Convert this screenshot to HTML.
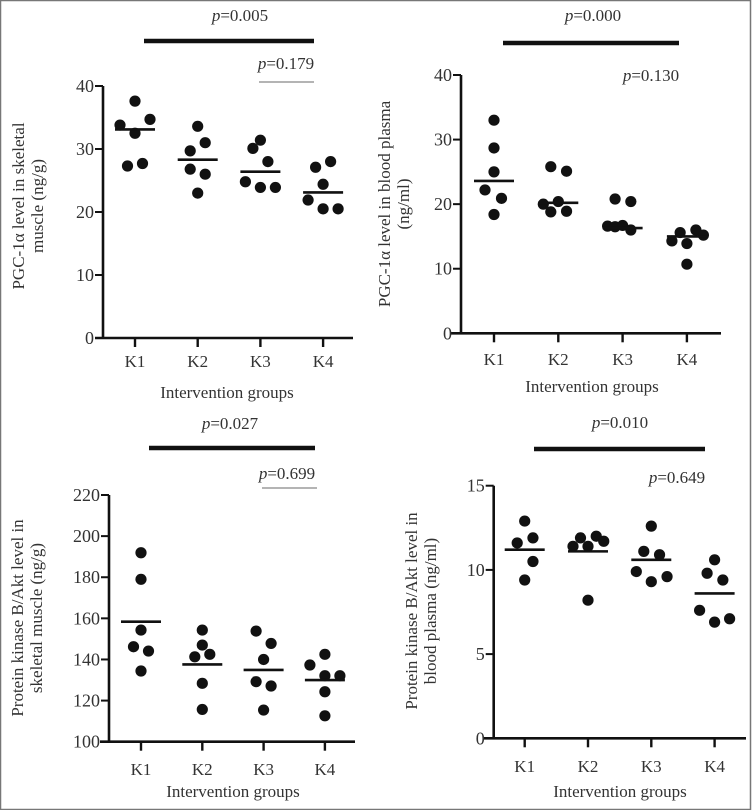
<!DOCTYPE html>
<html><head><meta charset="utf-8"><style>
html,body{margin:0;padding:0;background:#fff;}
svg, svg text{font-family:"Liberation Serif","Times New Roman",serif;}
svg{display:block;}
</style></head><body>
<svg id="fig" width="756" height="810" viewBox="0 0 756 810" font-family="Liberation Serif, serif">
<rect x="0.5" y="0.5" width="750" height="809" fill="none" stroke="#777" stroke-width="1.5"/>
</svg>
<script>
const categories = ["K1","K2","K3","K4"];
// Panel A: PGC-1a skeletal muscle
const aValues = [[33.8,37.6,34.7,32.5,27.3,27.7],[33.6,29.7,31.0,26.8,26.0,23.0],[30.1,31.4,28.0,24.8,23.9,23.9],[27.1,28.0,24.4,21.9,20.5,20.5]];
const aJitter = [[-1,0,1,0,-0.5,0.5],[0,-0.5,0.5,-0.5,0.5,0],[-0.5,0,0.5,-1,0,1],[-0.5,0.5,0,-1,0,1]];
const aMeans = [33.1,28.3,26.4,23.1];
const aTicks = [0,10,20,30,40];
// Panel B: PGC-1a blood plasma
const bValues = [[33.0,28.7,25.0,22.2,20.9,18.4],[25.8,25.1,20.0,20.4,18.8,18.9],[20.8,20.4,16.6,16.5,16.7,16.0],[14.3,15.6,13.9,16.0,15.2,10.7]];
const bJitter = [[0,0,0,-0.6,0.5,0],[-0.5,0.55,-1,0,-0.5,0.55],[-0.5,0.55,-1,-0.5,0,0.55],[-1,-0.45,0,0.6,1.1,0]];
const bMeans = [23.6,20.2,16.3,15.0];
const bTicks = [0,10,20,30,40];
// Panel C: PKB/Akt skeletal muscle
const cValues = [[191.9,179.0,154.3,146.2,144.1,134.4],[154.3,147.0,142.5,141.3,128.4,115.7],[153.8,147.8,140.0,129.2,127.1,115.4],[142.5,137.3,132.1,132.1,124.3,112.6]];
const cJitter = [[0,0,0,-0.5,0.5,0],[0,0,0.5,-0.5,0,0],[-0.5,0.5,0,-0.5,0.5,0],[0,-1,0,1,0,0]];
const cMeans = [158.4,137.6,134.9,130.0];
const cTicks = [100,120,140,160,180,200,220];
// Panel D: PKB/Akt blood plasma
const dValues = [[12.9,11.6,11.9,10.5,9.4],[11.4,11.9,11.4,12.0,11.7,8.2],[12.6,11.1,10.9,9.9,9.3,9.6],[10.6,9.8,9.4,7.6,6.9,7.1]];
const dJitter = [[0,-0.5,0.55,0.55,0],[-1,-0.5,0,0.55,1.05,0],[0,-0.5,0.55,-1,0,1.05],[0,-0.5,0.55,-1,0,1]];
const dMeans = [11.2,11.1,10.6,8.6];
const dTicks = [0,5,10,15];
const pLabels = ["0.005","0.179","0.000","0.130","0.027","0.699","0.010","0.649"];

const NS="http://www.w3.org/2000/svg";
const svg=document.getElementById('fig');
const FF="Liberation Serif, serif";
function mk(tag,attrs,parent){const e=document.createElementNS(NS,tag);for(const k in attrs)e.setAttribute(k,attrs[k]);if(tag==='text')e.setAttribute('font-family',FF);(parent||svg).appendChild(e);return e;}

function panel(cfg){
  const g=mk('g',{});
  
  
  const yMin=cfg.ticks[0], yMax=cfg.ticks[cfg.ticks.length-1];
  const ys=v=>cfg.y0+(v-yMin)/(yMax-yMin)*(cfg.y1-cfg.y0);
  const xs=i=>cfg.xK1+i*cfg.step;
  const ya=mk('line',{x1:cfg.ax,y1:cfg.y1,x2:cfg.ax,y2:cfg.y0+1,stroke:'#111','stroke-width':2.6},g);
  
  
  const xa=mk('line',{x1:cfg.xl,y1:cfg.y0,x2:cfg.xr,y2:cfg.y0,stroke:'#111','stroke-width':2.6},g);
  
  
  cfg.ticks.forEach(t=>{
    const y=ys(t);
    const tk=mk('line',{x1:cfg.ax-8,y1:y,x2:cfg.ax,y2:y,stroke:'#111','stroke-width':2},g);
    
    
    const tl=mk('text',{x:cfg.ax-9,y:y+6,'text-anchor':'end','font-size':18,fill:'#333'},g);
    tl.textContent=t;
    
    
  });
  categories.forEach((c,i)=>{
    const x=xs(i);
    const tk=mk('line',{x1:x,y1:cfg.y0,x2:x,y2:cfg.y0+9,stroke:'#111','stroke-width':2.4},g);
    
    
    const tl=mk('text',{x:x,y:cfg.klab,'text-anchor':'middle','font-size':17,fill:'#333'},g);
    tl.textContent=c;
    
    
    cfg.values[i].forEach((v,j)=>{
      const d=mk('circle',{cx:x+cfg.jitter[i][j]*15,cy:ys(v),r:5.6,fill:'#111'},g);
      
      
    });
    const m=mk('line',{x1:x-20,y1:ys(cfg.means[i]),x2:x+20,y2:ys(cfg.means[i]),stroke:'#111','stroke-width':2.6},g);
    
    
  });
  const xt=mk('text',{x:cfg.titleX,y:cfg.titleY,'text-anchor':'middle','font-size':17,fill:'#333'},g);
  xt.textContent='Intervention groups';
  
  
  const yt=mk('text',{transform:`translate(${cfg.ylx},${cfg.yly}) rotate(-90)`,'text-anchor':'middle','font-size':17,fill:'#333'},g);
  
  
  cfg.ylab.forEach((s,k)=>{const ts=mk('tspan',{x:0,dy:k?19:0},yt);ts.textContent=s;});
  const b=mk('line',{x1:cfg.bar[0],y1:cfg.bar[2],x2:cfg.bar[1],y2:cfg.bar[2],stroke:'#111','stroke-width':4.5},g);
  
  
  function ptext(x,y,val,nm){
    const t=mk('text',{x:x,y:y,'text-anchor':'middle','font-size':17,fill:'#333'},g);
    const a=mk('tspan',{'font-style':'italic'},t);a.textContent='p';
    const bb=mk('tspan',{},t);bb.textContent='='+val;
    
    
  }
  ptext(cfg.p1[0],cfg.p1[1],cfg.p1[2],'p-value-k1-k4');
  ptext(cfg.p2[0],cfg.p2[1],cfg.p2[2],'p-value-k3-k4');
  if(cfg.thin){
    const tl=mk('line',{x1:cfg.thin[0],y1:cfg.thin[2],x2:cfg.thin[1],y2:cfg.thin[2],stroke:'#888','stroke-width':1.2},g);
    
    
  }
}

panel({name:'panel-pgc1a-muscle',values:aValues,jitter:aJitter,means:aMeans,ticks:aTicks,
  ax:103,y0:338,y1:86,xl:95,xr:353,xK1:135,step:62.7,klab:367,titleX:227,titleY:398,
  ylx:24,yly:206,ylab:['PGC-1α level in skeletal','muscle (ng/g)'],
  bar:[144,314,41],p1:[240,21,pLabels[0]],p2:[286,69,pLabels[1]],thin:[259,314,82]});
panel({name:'panel-pgc1a-plasma',values:bValues,jitter:bJitter,means:bMeans,ticks:bTicks,
  ax:461,y0:333.3,y1:75,xl:451,xr:721,xK1:494,step:64.3,klab:365,titleX:592,titleY:392,
  ylx:390,yly:204,ylab:['PGC-1α level in blood plasma','(ng/ml)'],
  bar:[503,679,43],p1:[593,21,pLabels[2]],p2:[651,81,pLabels[3]]});
panel({name:'panel-akt-muscle',values:cValues,jitter:cJitter,means:cMeans,ticks:cTicks,
  ax:109,y0:741.7,y1:495,xl:100,xr:355,xK1:141,step:61.3,klab:775,titleX:233,titleY:797,
  ylx:23,yly:618,ylab:['Protein kinase B/Akt level in','skeletal muscle (ng/g)'],
  bar:[149,315,448],p1:[230,429,pLabels[4]],p2:[287,479,pLabels[5]],thin:[262,317,488]});
panel({name:'panel-akt-plasma',values:dValues,jitter:dJitter,means:dMeans,ticks:dTicks,
  ax:493.7,y0:738.3,y1:485.7,xl:484,xr:746,xK1:524.7,step:63.3,klab:772,titleX:620,titleY:797,
  ylx:417,yly:611,ylab:['Protein kinase B/Akt level in','blood plasma (ng/ml)'],
  bar:[534,705,449],p1:[620,428,pLabels[6]],p2:[677,483,pLabels[7]]});
</script>
</body></html>
